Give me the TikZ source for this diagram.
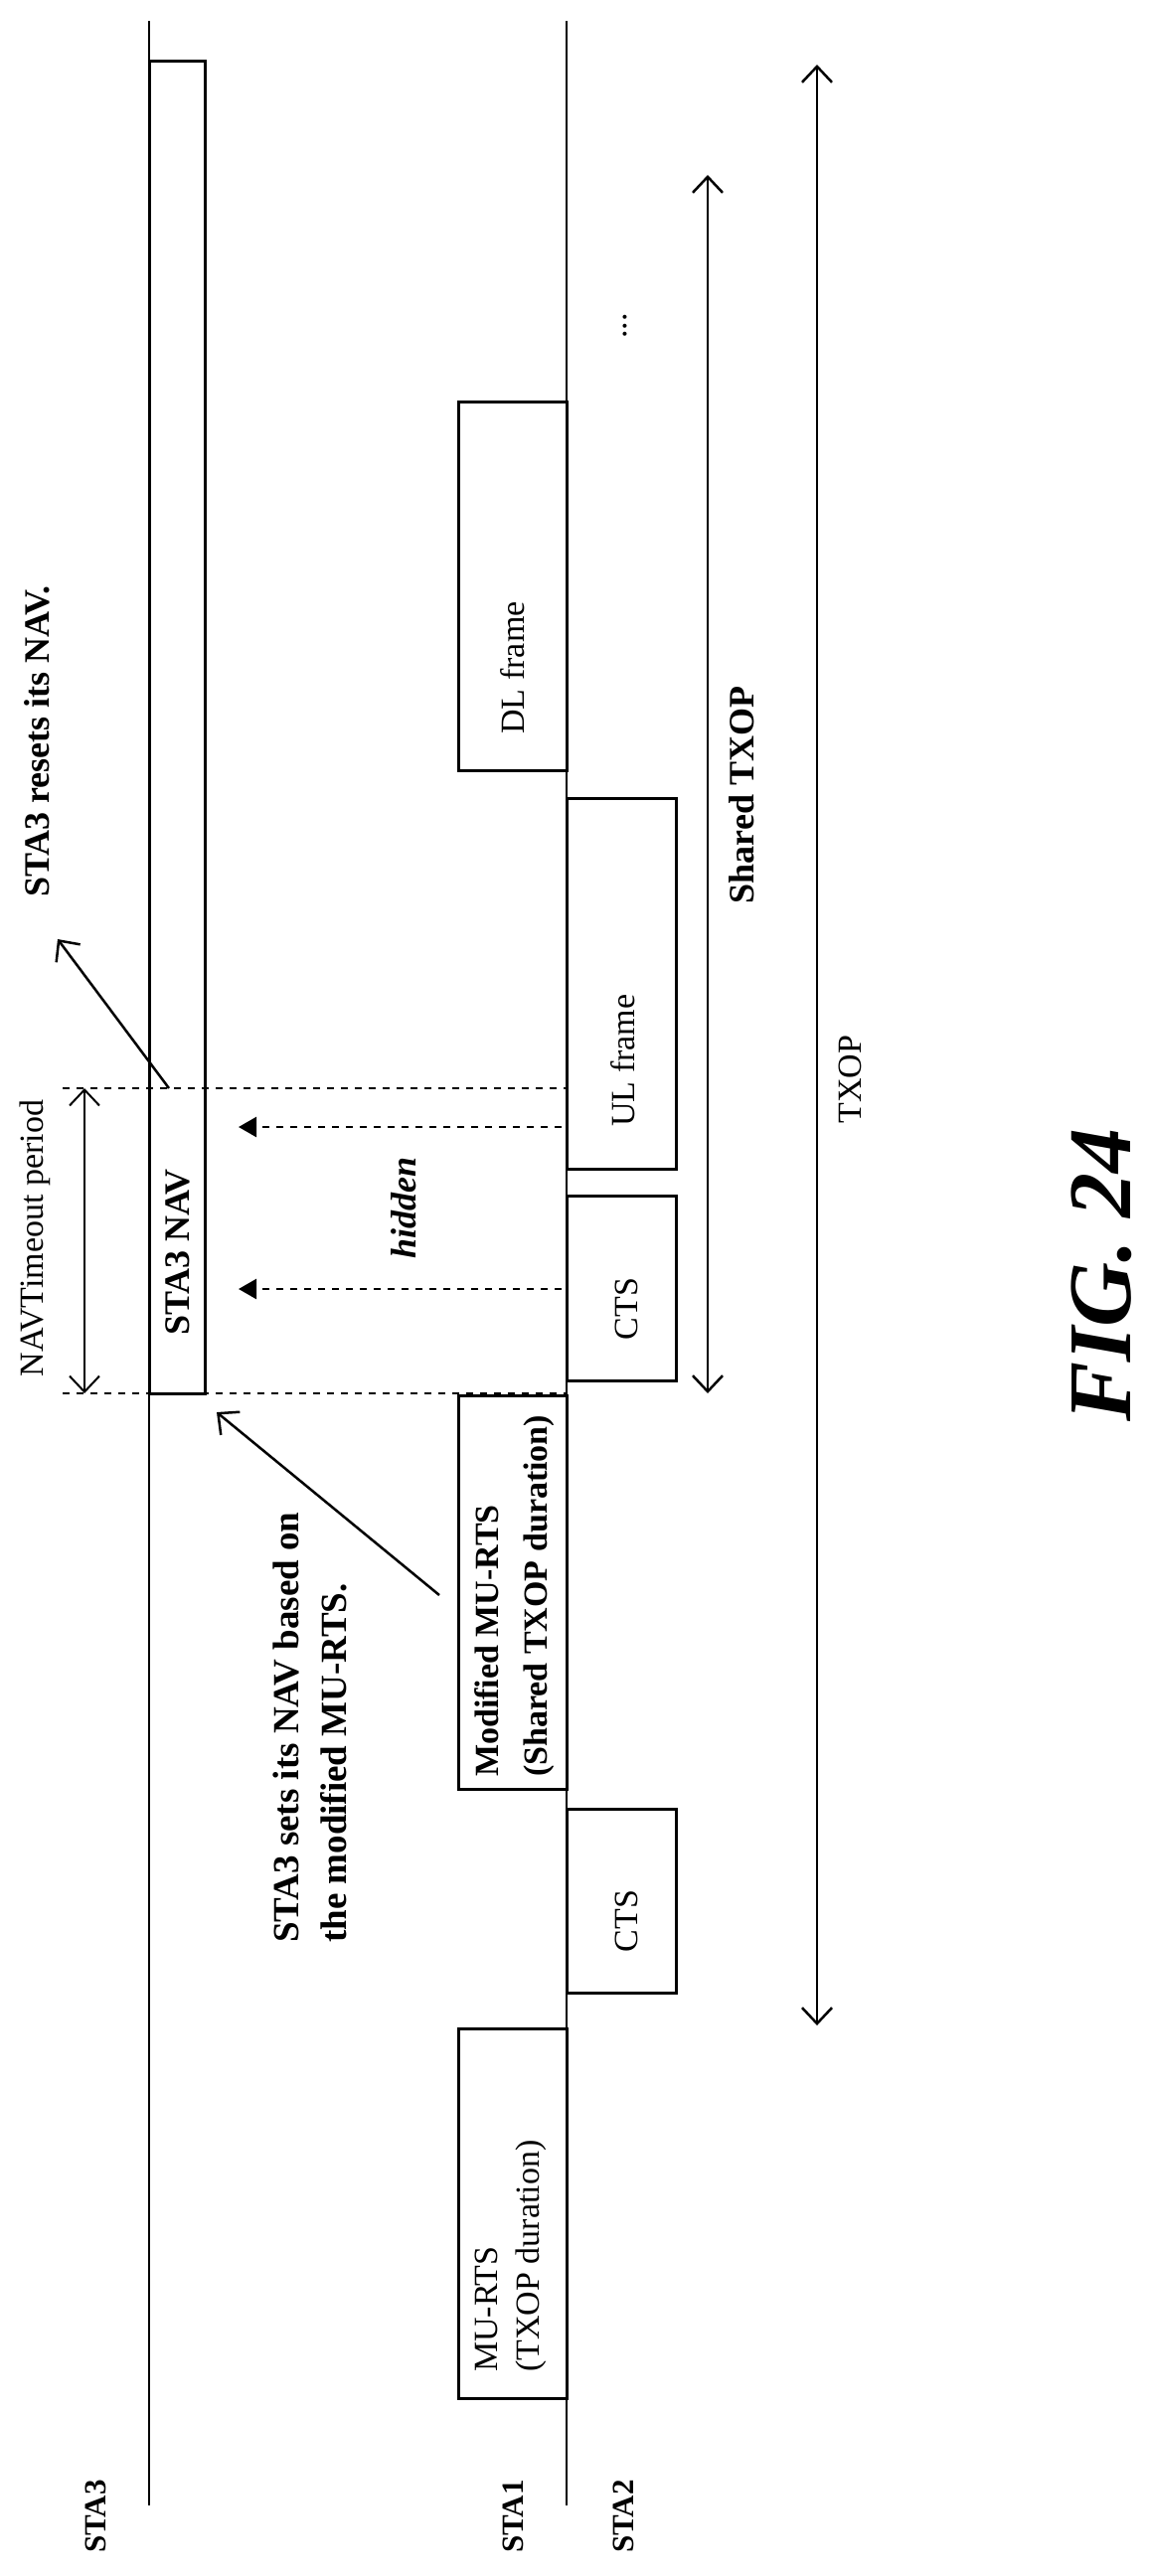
\documentclass[tikz,border=0pt]{standalone}
\usepackage{fontspec}
\setmainfont{Liberation Serif}
\usetikzlibrary{arrows.meta}
\begin{document}
\begin{tikzpicture}[x=1pt,y=-1pt,
  ln/.style={line width=2.5pt},
  fr/.style={draw,line width=3pt},
  txt/.style={rotate=90,inner sep=0pt,font=\fontsize{34}{42}\selectfont},
  btxt/.style={rotate=90,inner sep=0pt,font=\fontsize{36}{48}\selectfont\bfseries},
  dsh/.style={line width=2.5pt,dash pattern=on 7pt off 7pt},
  dbl/.style={line width=2.5pt,{Straight Barb[length=16pt,width=30pt]}-{Straight Barb[length=16pt,width=30pt]}},
  opn/.style={line width=2.5pt,-{Straight Barb[length=16pt,width=30pt]}},
  fil/.style={dsh,-{Triangle[length=18pt,width=20pt]}}]
\useasboundingbox (0,0) rectangle (1156,2592);
% lifelines
\coordinate (s3t) at (150,21); \coordinate (s3b) at (150,2521);
\coordinate (s1t) at (570,21); \coordinate (s1b) at (570,2521);
\draw[ln] (s3t) -- (s3b);
\draw[ln] (s1t) -- (s1b);
\node[btxt,font=\fontsize{31}{36}\selectfont\bfseries] (l3) at (96,2532) {STA3};
\node[btxt,font=\fontsize{31}{36}\selectfont\bfseries] (l1) at (516,2532) {STA1};
\node[btxt,font=\fontsize{31}{36}\selectfont\bfseries] (l2) at (627,2532) {STA2};
% NAV box
\draw[fr] (150,61) rectangle (206,1402);
\node[btxt] (nav) at (179,1260) {STA3 NAV};
% frames
\draw[fr] (461,2413) rectangle (570,2041);
\node[txt,anchor=west,align=left] (murts) at (514,2387) {MU-RTS\\(TXOP duration)};
\draw[fr] (570,2005) rectangle (680,1820);
\node[txt] (cts1) at (630,1933) {CTS};
\draw[fr] (461,1800) rectangle (570,1404);
\node[btxt,anchor=west,align=left,font=\fontsize{34}{49}\selectfont\bfseries] (mod) at (518,1788) {Modified MU-RTS\\(Shared TXOP duration)};
\draw[fr] (570,1389) rectangle (680,1203);
\node[txt] (cts2) at (630,1317) {CTS};
\draw[fr] (570,1176) rectangle (680,803);
\node[txt] (ul) at (627,1067) {UL frame};
\draw[fr] (461,775) rectangle (570,404);
\node[txt] (dl) at (516,672) {DL frame};
\node[txt] (dots) at (629,328) {...};
% dashed lines
\coordinate (d1a) at (63,1095); \coordinate (d1b) at (570,1095);
\coordinate (d2a) at (63,1402); \coordinate (d2b) at (570,1402);
\draw[dsh] (d1a) -- (d1b);
\draw[dsh] (d2a) -- (d2b);
\coordinate (h1a) at (565,1134); \coordinate (h1b) at (240,1134);
\coordinate (h2a) at (565,1297); \coordinate (h2b) at (240,1297);
\draw[fil] (h1a) -- (h1b);
\draw[fil] (h2a) -- (h2b);
\node[btxt,font=\fontsize{36}{42}\selectfont\bfseries\itshape] (hid) at (406,1215) {hidden};
% NAVTimeout
\coordinate (n1) at (85,1095); \coordinate (n2) at (85,1402);
\draw[dbl,line width=2pt] (n1) -- (n2);
\node[txt] (navt) at (35,1246) {NAVTimeout period};
% reset annotation
\node[btxt,anchor=center] (reset) at (37,746) {STA3 resets its NAV.};
\coordinate (r1) at (170,1095); \coordinate (r2) at (58,945);
\draw[opn] (r1) -- (r2);
% set annotation
\node[btxt,anchor=west,align=left,font=\fontsize{37}{48}\selectfont\bfseries] (setn) at (312,1955) {STA3 sets its NAV based on\\the modified MU-RTS.};
\coordinate (a1) at (442,1605); \coordinate (a2) at (218,1421);
\draw[opn] (a1) -- (a2);
% TXOP arrows
\coordinate (st1) at (712,176); \coordinate (st2) at (712,1402);
\draw[dbl] (st1) -- (st2);
\node[btxt] (stx) at (746,800) {Shared TXOP};
\coordinate (t1) at (822,65); \coordinate (t2) at (822,2038);
\draw[dbl] (t1) -- (t2);
\node[txt] (tx) at (855,1086) {TXOP};
\node[rotate=90,inner sep=0pt,font=\fontsize{90}{100}\selectfont\bfseries\itshape] (fig) at (1108,1283) {FIG. 24};
\end{tikzpicture}
\end{document}
